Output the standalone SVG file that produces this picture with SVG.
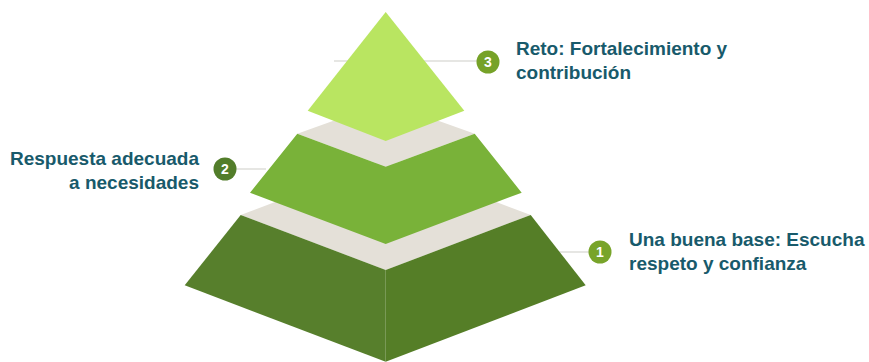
<svg xmlns="http://www.w3.org/2000/svg" width="869" height="362" viewBox="0 0 869 362">
<style>
.lbl{font-family:"Liberation Sans",Arial,sans-serif;font-weight:bold;font-size:19px;fill:#185a6b}
.num{font-family:"Liberation Sans",Arial,sans-serif;font-weight:bold;font-size:14px;fill:#ffffff;text-anchor:middle}
.con{stroke:#e6e6e3;stroke-width:2;fill:none}
</style>
<rect width="869" height="362" fill="#ffffff"/>
<g id="connectors">
<line class="con" x1="334" y1="61" x2="480" y2="61"/>
<line class="con" x1="234" y1="169" x2="266" y2="169"/>
<line class="con" x1="558" y1="252" x2="592" y2="252"/>
</g>
<g id="level1">
<polygon points="240.7,215 385.7,160 530.7,215 385.7,270" fill="#e4e0d8"/>
<polygon points="240.7,215 385.7,270 385.7,361.7 184.7,285.3" fill="#577f2c"/>
<polygon points="385.7,270 530.7,215 585.7,285.3 385.7,361.7" fill="#557e27"/>
</g>
<g id="level2">
<polygon points="297.3,133.7 385.7,102 474.7,133.7 385.7,166.7" fill="#e4e0d8"/>
<polygon points="297.3,133.7 385.7,166.7 474.7,133.7 521.7,192.7 385.7,244 250,192.7" fill="#79b239"/>
</g>
<g id="level3">
<polygon points="385.7,12 464.3,110.7 385.7,141 307.7,110.7" fill="#b9e561"/>
</g>
<g id="label3">
<circle cx="488" cy="62" r="11.5" fill="#76a228"/>
<text class="num" x="488" y="67">3</text>
<text class="lbl" x="516" y="55">Reto: Fortalecimiento y</text>
<text class="lbl" x="516" y="79">contribución</text>
</g>
<g id="label2">
<circle cx="225" cy="169" r="11.5" fill="#527d2a"/>
<text class="num" x="225" y="174">2</text>
<text class="lbl" x="199" y="165" text-anchor="end">Respuesta adecuada</text>
<text class="lbl" x="199" y="189" text-anchor="end">a necesidades</text>
</g>
<g id="label1">
<circle cx="600" cy="252" r="11.5" fill="#78a42a"/>
<text class="num" x="600" y="257">1</text>
<text class="lbl" x="629" y="246">Una buena base: Escucha</text>
<text class="lbl" x="629" y="270">respeto y confianza</text>
</g>
</svg>
